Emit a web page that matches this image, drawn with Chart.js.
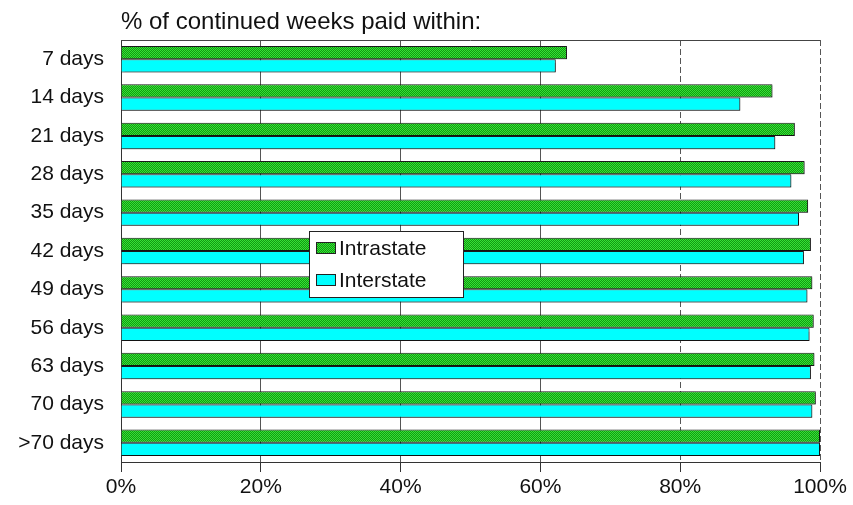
<!DOCTYPE html>
<html>
<head>
<meta charset="utf-8">
<script src="https://cdn.jsdelivr.net/npm/chart.js@4.4.1/dist/chart.umd.min.js"></script>
<style>
  html, body { margin: 0; padding: 0; background: #fff; }
  #wrap { width: 853px; height: 505px; position: relative; }
</style>
</head>
<body>
<div id="wrap"><canvas id="grafico"></canvas></div>
<script>
const categorias = ["7 days", "14 days", "21 days", "28 days", "35 days", "42 days", "49 days", "56 days", "63 days", "70 days", ">70 days"];
const intrastate = [63.8, 93.2, 96.4, 97.8, 98.3, 98.7, 98.9, 99.1, 99.2, 99.4, 100];
const interstate = [62.2, 88.6, 93.6, 95.9, 97.0, 97.7, 98.2, 98.5, 98.7, 98.9, 100];
const tickLabels = ["0%", "20%", "40%", "60%", "80%", "100%"];
const titulo = "% of continued weeks paid within:";

// patron verde tramado
function patronVerde() {
  const c = document.createElement("canvas");
  c.width = 2; c.height = 2;
  const g = c.getContext("2d");
  g.fillStyle = "#36e236"; g.fillRect(0, 0, 2, 2);
  g.fillStyle = "#119a11"; g.fillRect(1, 0, 1, 1); g.fillRect(0, 1, 1, 1);
  return g.createPattern(c, "repeat");
}

const ctx = document.getElementById("grafico").getContext("2d");
const verde = patronVerde();
const FONT = "Liberation Sans, Arial, sans-serif";

const extras = {
  id: "extras",
  beforeDatasetsDraw(chart) {
    const { ctx, chartArea: a } = chart;
    ctx.save();
    ctx.strokeStyle = "#444";
    ctx.lineWidth = 1;
    ctx.beginPath();
    ctx.moveTo(a.left, a.top + 0.5);
    ctx.lineTo(a.right, a.top + 0.5);
    ctx.stroke();
    ctx.restore();
    // sombra suave de las barras
    ctx.save();
    ctx.shadowColor = "rgba(0,0,0,0.3)";
    ctx.shadowOffsetX = 1;
    ctx.shadowOffsetY = 1;
    ctx.shadowBlur = 1;
  },
  afterDatasetsDraw(chart) {
    const { ctx, chartArea: a } = chart;
    ctx.restore();
    // titulo
    ctx.save();
    ctx.fillStyle = "#111";
    ctx.font = "24px " + FONT;
    ctx.textBaseline = "alphabetic";
    ctx.textAlign = "left";
    ctx.fillText(titulo, a.left, 29);
    // leyenda
    const x = a.left + 188, y = a.top + 191, w = 154, h = 66;
    ctx.shadowColor = "rgba(0,0,0,0.3)";
    ctx.shadowOffsetX = 1; ctx.shadowOffsetY = 1;
    ctx.fillStyle = "#fff";
    ctx.fillRect(x, y, w, h);
    ctx.shadowColor = "transparent";
    ctx.strokeStyle = "#222";
    ctx.lineWidth = 1;
    ctx.strokeRect(x + 0.5, y + 0.5, w, h);
    chart.data.datasets.forEach((ds, i) => {
      const cy = y + 17 + i * 32;
      ctx.fillStyle = ds.backgroundColor;
      ctx.fillRect(x + 7, cy - 6, 20, 12);
      ctx.strokeStyle = "#222";
      ctx.strokeRect(x + 7.5, cy - 5.5, 19, 11);
      ctx.fillStyle = "#111";
      ctx.font = "21px " + FONT;
      ctx.textBaseline = "middle";
      ctx.fillText(ds.label, x + 30, cy + 1);
    });
    ctx.restore();
  }
};

new Chart(ctx, {
  type: "bar",
  data: {
    labels: categorias,
    datasets: [
      {
        label: "Intrastate",
        data: intrastate,
        backgroundColor: verde,
        borderColor: "#1a1a1a",
        borderWidth: 1,
      },
      {
        label: "Interstate",
        data: interstate,
        backgroundColor: "#00ffff",
        borderColor: "#1a1a1a",
        borderWidth: 1,
      },
    ],
  },
  options: {
    indexAxis: "y",
    responsive: true,
    maintainAspectRatio: false,
    animation: false,
    categoryPercentage: 0.69,
    barPercentage: 1.0,
    layout: { padding: { left: 0, right: 33, top: 40, bottom: 0 } },
    scales: {
      x: {
        min: 0,
        max: 100,
        ticks: {
          stepSize: 20,
          color: "#111",
          font: { family: FONT, size: 21 },
          padding: 3,
          callback: (v) => tickLabels[Math.round(v / 20)],
        },
        grid: {
          color: "#555",
          lineWidth: 1,
          drawTicks: true,
          tickLength: 10,
          tickColor: "#333",
        },
        border: {
          display: true,
          color: "#333",
          dash: (c) => (c.tick && c.tick.value >= 80 ? [6, 3] : []),
        },
        afterFit: (s) => { s.height = 43; },
      },
      y: {
        ticks: {
          color: "#111",
          font: { family: FONT, size: 21 },
          padding: 9,
        },
        grid: { display: false },
        border: { display: true, color: "#333" },
        afterFit: (s) => { s.width = 121; },
      },
    },
    plugins: {
      legend: { display: false },
      title: { display: false },
      tooltip: { enabled: false },
    },
  },
  plugins: [extras],
});
</script>
</body>
</html>
